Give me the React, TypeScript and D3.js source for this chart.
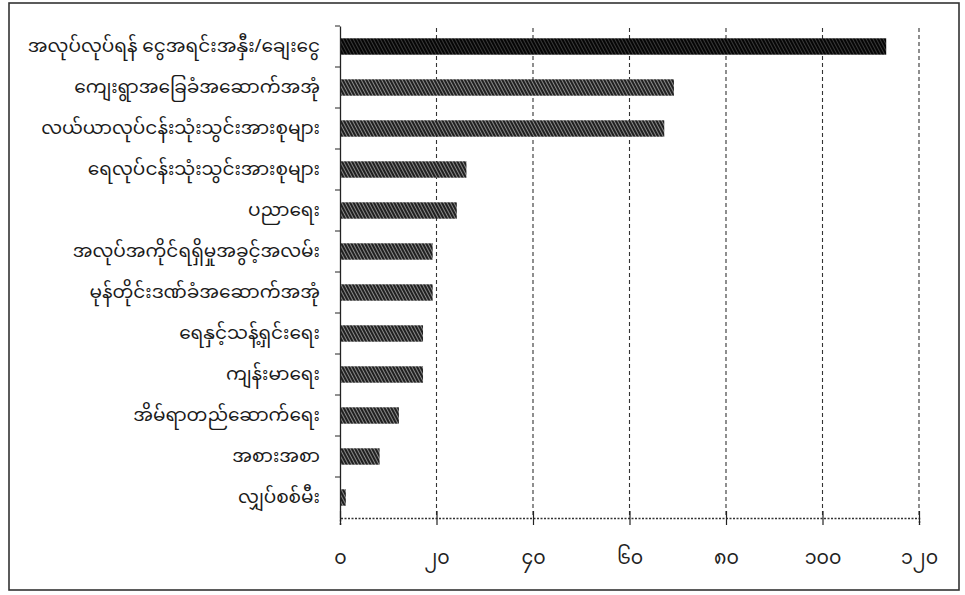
import React, { useEffect, useRef } from 'react';
import * as d3 from 'd3';

// categories, top to bottom
const categories = [
  'အလုပ်လုပ်ရန် ငွေအရင်းအနှီး/ချေးငွေ',
  'ကျေးရွာအခြေခံအဆောက်အအုံ',
  'လယ်ယာလုပ်ငန်းသုံးသွင်းအားစုများ',
  'ရေလုပ်ငန်းသုံးသွင်းအားစုများ',
  'ပညာရေး',
  'အလုပ်အကိုင်ရရှိမှုအခွင့်အလမ်း',
  'မုန်တိုင်းဒဏ်ခံအဆောက်အအုံ',
  'ရေနှင့်သန့်ရှင်းရေး',
  'ကျန်းမာရေး',
  'အိမ်ရာတည်ဆောက်ရေး',
  'အစားအစာ',
  'လျှပ်စစ်မီး',
];

const values = [113, 69, 67, 26, 24, 19, 19, 17, 17, 12, 8, 1];

const tickValues = [0, 20, 40, 60, 80, 100, 120];
const tickLabels = ['၀', '၂၀', '၄၀', '၆၀', '၈၀', '၁၀၀', '၁၂၀'];

const FONT = '"Noto Sans Myanmar", "Padauk", "Myanmar Text", "Noto Sans", sans-serif';

const App: React.FC = () => {
  const svgRef = useRef<SVGSVGElement | null>(null);

  useEffect(() => {
    if (!svgRef.current) return;
    const svg = d3.select(svgRef.current);
    svg.selectAll('*').remove();

    const width = 965;
    const height = 595;
    const left = 340;
    const right = 919;
    const top = 26;
    const bottom = 518;

    // hatch patterns
    const defs = svg.append('defs');
    const hatch = (id: string, bg: string, ink: string) => {
      const p = defs
        .append('pattern')
        .attr('id', id)
        .attr('patternUnits', 'userSpaceOnUse')
        .attr('width', 3)
        .attr('height', 6)
        .attr('patternTransform', 'rotate(-28)');
      p.append('rect').attr('width', 3).attr('height', 6).attr('fill', bg);
      p.append('line')
        .attr('x1', 1).attr('y1', 0).attr('x2', 1).attr('y2', 6)
        .attr('stroke', ink).attr('stroke-width', 1.8);
    };
    hatch('hatchDark', '#3a3a3a', '#000');
    hatch('hatch', '#8a8a8a', '#151515');

    // frame
    svg.append('rect')
      .attr('x', 9).attr('y', 3)
      .attr('width', 950).attr('height', 587)
      .attr('fill', '#fff')
      .attr('stroke', '#333').attr('stroke-width', 1.6);

    const x = d3.scaleLinear().domain([0, 120]).range([left, right]);
    const y = d3
      .scaleBand()
      .domain(categories)
      .range([top, bottom])
      .paddingInner(0.6)
      .paddingOuter(0.3);

    // dashed grid
    svg.append('g')
      .selectAll('line')
      .data(tickValues.slice(1))
      .enter()
      .append('line')
      .attr('x1', (d) => x(d)).attr('x2', (d) => x(d))
      .attr('y1', top + 2).attr('y2', bottom)
      .attr('stroke', '#333')
      .attr('stroke-width', 1.1)
      .attr('stroke-dasharray', '4,3');

    // bars
    svg.append('g')
      .selectAll('rect')
      .data(values)
      .enter()
      .append('rect')
      .attr('x', x(0) + 1)
      .attr('y', (d, i) => y(categories[i])!)
      .attr('width', (d) => x(d) - x(0))
      .attr('height', y.bandwidth())
      .attr('fill', (d, i) => (i === 0 ? 'url(#hatchDark)' : 'url(#hatch)'));

    // x axis (dotted baseline, solid ticks)
    const xAxis = d3
      .axisBottom(x)
      .tickValues(tickValues)
      .tickSize(7)
      .tickPadding(26)
      .tickFormat((d, i) => tickLabels[i]);
    const gx = svg.append('g')
      .attr('transform', `translate(0,${bottom})`)
      .call(xAxis);
    gx.select('.domain')
      .attr('stroke', '#333')
      .attr('stroke-width', 1.5)
      .attr('stroke-dasharray', '2,1.5');
    gx.selectAll('.tick line')
      .attr('y1', -7)
      .attr('stroke', '#222')
      .attr('stroke-width', 1.2);
    gx.selectAll('.tick text')
      .attr('font-family', FONT)
      .attr('font-size', '19px')
      .attr('fill', '#222');

    // y axis
    const yAxis = d3.axisLeft(y).tickSize(0).tickPadding(20);
    const gy = svg.append('g')
      .attr('transform', `translate(${left},0)`)
      .call(yAxis);
    gy.select('.domain').attr('stroke', '#222').attr('stroke-width', 1.3);
    gy.selectAll('.tick text')
      .attr('font-family', FONT)
      .attr('font-size', '18.5px')
      .attr('fill', '#1a1a1a');

    // small ticks between categories
    svg.append('g')
      .selectAll('line')
      .data(d3.range(categories.length))
      .enter()
      .append('line')
      .attr('x1', left - 5).attr('x2', left)
      .attr('y1', (i) => y(categories[i])! - (y.step() - y.bandwidth()) / 2)
      .attr('y2', (i) => y(categories[i])! - (y.step() - y.bandwidth()) / 2)
      .attr('stroke', '#222');

    svg.attr('viewBox', `0 0 ${width} ${height}`);
  }, []);

  return (
    <svg
      ref={svgRef}
      width={965}
      height={595}
      style={{ position: 'absolute', left: 0, top: 0, background: '#fff' }}
    />
  );
};

export default App;
